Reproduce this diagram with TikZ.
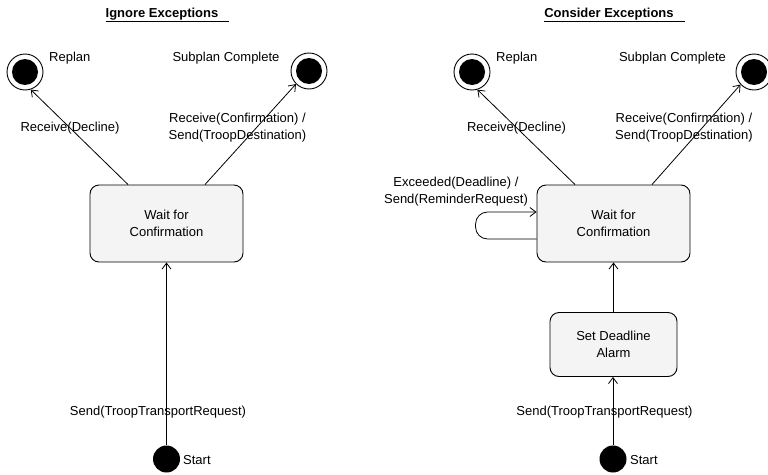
\documentclass[tikz,border=0pt]{standalone}
\usepackage{fontspec}
\setmainfont{Liberation Sans}
\usetikzlibrary{arrows.meta,calc}

\definecolor{statefill}{RGB}{244,244,244}

\tikzset{
  every node/.style={font=\fontsize{13}{17}\selectfont, inner sep=0pt},
  endstate/.style={circle, draw, line width=0.9pt, minimum size=36pt, inner sep=0pt,
    path picture={\fill (path picture bounding box.center) circle (13pt);}},
  initstate/.style={circle, fill, minimum size=27pt, inner sep=0pt},
  statebox/.style={draw, line width=0.9pt, fill=statefill, rounded corners=9pt,
    align=center, inner sep=0pt},
  trans/.style={line width=0.8pt, -{Straight Barb[length=6pt,width=9pt,line width=0.8pt]}},
  lbl/.style={align=center},
  heading/.style={font=\fontsize{13}{15}\selectfont\bfseries}
}

\begin{document}
\begin{tikzpicture}[x=1pt, y=-1pt]
\useasboundingbox (0,0) rectangle (768,474);

% ---------- left: ignore exceptions ----------
\node[heading] (titleL) at (167.5,15) {\underline{Ignore Exceptions\hspace{11pt}}};

\node[endstate] (replanL) at (25,72) {};
\node[anchor=west] (replanLtxt) at (49,58) {Replan};
\node[endstate] (doneL) at (309,71) {};
\node (doneLtxt) at (226,58) {Subplan Complete};

\node[statebox, minimum width=153pt, minimum height=77pt] (waitL) at (166.5,223.5)
  {Wait for\\Confirmation};

\node[initstate] (startL) at (166.5,459) {};
\node[anchor=west] (startLtxt) at (183,460) {Start};

\draw[trans] ($(waitL.north west)!0.25!(waitL.north east)$) -- (replanL.-72);
\draw[trans] ($(waitL.north west)!0.75!(waitL.north east)$) -- (doneL.-135);
\draw[trans] (startL) -- (waitL.south);

\node[lbl] (declL) at (70,128) {Receive(Decline)};
\node[lbl] (confL) at (237.5,128) {Receive(Confirmation) /\\Send(TroopDestination)};
\node[lbl] (sendL) at (158,412) {Send(TroopTransportRequest)};

% ---------- right: consider exceptions ----------
\node[heading] (titleR) at (614.5,15) {\underline{Consider Exceptions\hspace{11pt}}};

\node[endstate] (replanR) at (472,72) {};
\node[anchor=west] (replanRtxt) at (496,58) {Replan};
\node[endstate] (doneR) at (754,72) {};
\node (doneRtxt) at (672.5,58) {Subplan Complete};

\node[statebox, minimum width=153pt, minimum height=77pt] (waitR) at (613.5,223.5)
  {Wait for\\Confirmation};
\node[statebox, minimum width=127pt, minimum height=64pt] (alarmR) at (613.5,344.5)
  {Set Deadline\\Alarm};

\node[initstate] (startR) at (613,459) {};
\node[anchor=west] (startRtxt) at (630,460) {Start};

\draw[trans] ($(waitR.north west)!0.25!(waitR.north east)$) -- (replanR.-73);
\draw[trans] ($(waitR.north west)!0.75!(waitR.north east)$) -- (doneR.-137);
\draw[trans] (alarmR.north) -- (waitR.south);
\draw[trans] (startR) -- (startR |- alarmR.south);

% self-transition on the waiting state
\draw[trans, rounded corners=12pt]
  ([yshift=-15.5pt]waitR.west) -- ++(-61pt,0pt) -- ++(0pt,27pt)
  -- ([yshift=11.5pt]waitR.west);

\node[lbl] (declR) at (516.5,128) {Receive(Decline)};
\node[lbl] (confR) at (684,128) {Receive(Confirmation) /\\Send(TroopDestination)};
\node[lbl] (remR) at (456,192) {Exceeded(Deadline) /\\Send(ReminderRequest)};
\node[lbl] (sendR) at (604.5,412) {Send(TroopTransportRequest)};
\end{tikzpicture}
\end{document}
